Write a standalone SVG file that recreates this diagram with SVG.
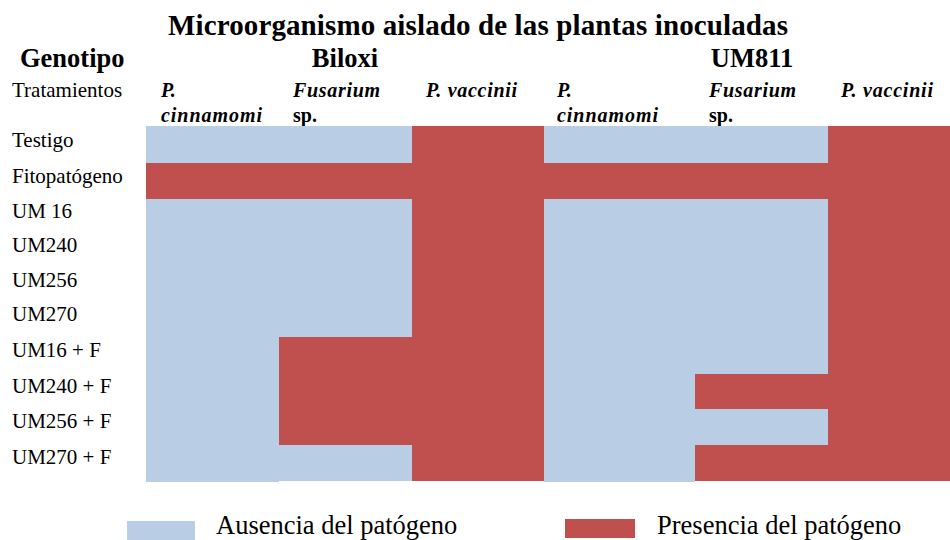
<svg xmlns="http://www.w3.org/2000/svg" width="950" height="540" viewBox="0 0 950 540">
<style>
text{font-family:"Liberation Serif","Times New Roman",serif;fill:#000}
.t{font-size:29px;font-weight:bold}
.h{font-size:26.5px;font-weight:bold}
.r{font-size:21px}
.s{font-size:20px;font-weight:bold;font-style:italic}
.sb{font-size:20px;font-weight:bold}
.lg{font-size:26.5px}
.a{fill:#B9CDE5}
.p{fill:#C0504D}
</style>
<rect width="950" height="540" fill="#fff"/>
<g id="title"><text class="t" x="478" y="35" text-anchor="middle" textLength="620">Microorganismo aislado de las plantas inoculadas</text></g>
<g id="header">
<text class="h" x="20" y="67">Genotipo</text>
<text class="h" x="345" y="67" text-anchor="middle">Biloxi</text>
<text class="h" x="752" y="67" text-anchor="middle">UM811</text>
<text class="r" x="12" y="97">Tratamientos</text>
<text class="s" x="161" y="97">P.</text>
<text class="s" x="161" y="122" textLength="101">cinnamomi</text>
<text class="s" x="293" y="97" textLength="87">Fusarium</text>
<text class="sb" x="293" y="122">sp.</text>
<text class="s" x="426" y="97" textLength="91">P. vaccinii</text>
<text class="s" x="557" y="97">P.</text>
<text class="s" x="557" y="122" textLength="101">cinnamomi</text>
<text class="s" x="709" y="97" textLength="87">Fusarium</text>
<text class="sb" x="709" y="122">sp.</text>
<text class="s" x="841" y="97" textLength="92">P. vaccinii</text>
</g>
<g id="rowlabels">
<text class="r" x="12" y="147">Testigo</text>
<text class="r" x="12" y="183">Fitopatógeno</text>
<text class="r" x="12" y="218">UM 16</text>
<text class="r" x="12" y="252">UM240</text>
<text class="r" x="12" y="287">UM256</text>
<text class="r" x="12" y="321">UM270</text>
<text class="r" x="12" y="357">UM16 + F</text>
<text class="r" x="12" y="393">UM240 + F</text>
<text class="r" x="12" y="428">UM256 + F</text>
<text class="r" x="12" y="464">UM270 + F</text>
</g>
<g id="biloxi">
<rect class="a" x="146" y="126" width="266" height="37"/>
<rect class="a" x="146" y="199" width="133" height="283"/>
<rect class="a" x="279" y="199" width="133" height="138"/>
<rect class="p" x="279" y="337" width="133" height="108"/>
<rect class="a" x="279" y="445" width="133" height="36"/>
<rect class="p" x="412" y="126" width="132" height="355"/>
</g>
<g id="um811">
<rect class="a" x="544" y="126" width="284" height="37"/>
<rect class="a" x="544" y="199" width="151" height="283"/>
<rect class="a" x="695" y="199" width="133" height="175"/>
<rect class="p" x="695" y="374" width="133" height="35"/>
<rect class="a" x="695" y="409" width="133" height="36"/>
<rect class="p" x="695" y="445" width="133" height="36"/>
<rect class="p" x="828" y="126" width="122" height="355"/>
</g>
<g id="fito"><rect class="p" x="146" y="163" width="804" height="36"/></g>
<g id="legend">
<rect class="a" x="127" y="521" width="68" height="19"/>
<text class="lg" x="216" y="534">Ausencia del patógeno</text>
<rect class="p" x="565" y="519" width="70" height="19"/>
<text class="lg" x="657" y="534">Presencia del patógeno</text>
</g>
</svg>
